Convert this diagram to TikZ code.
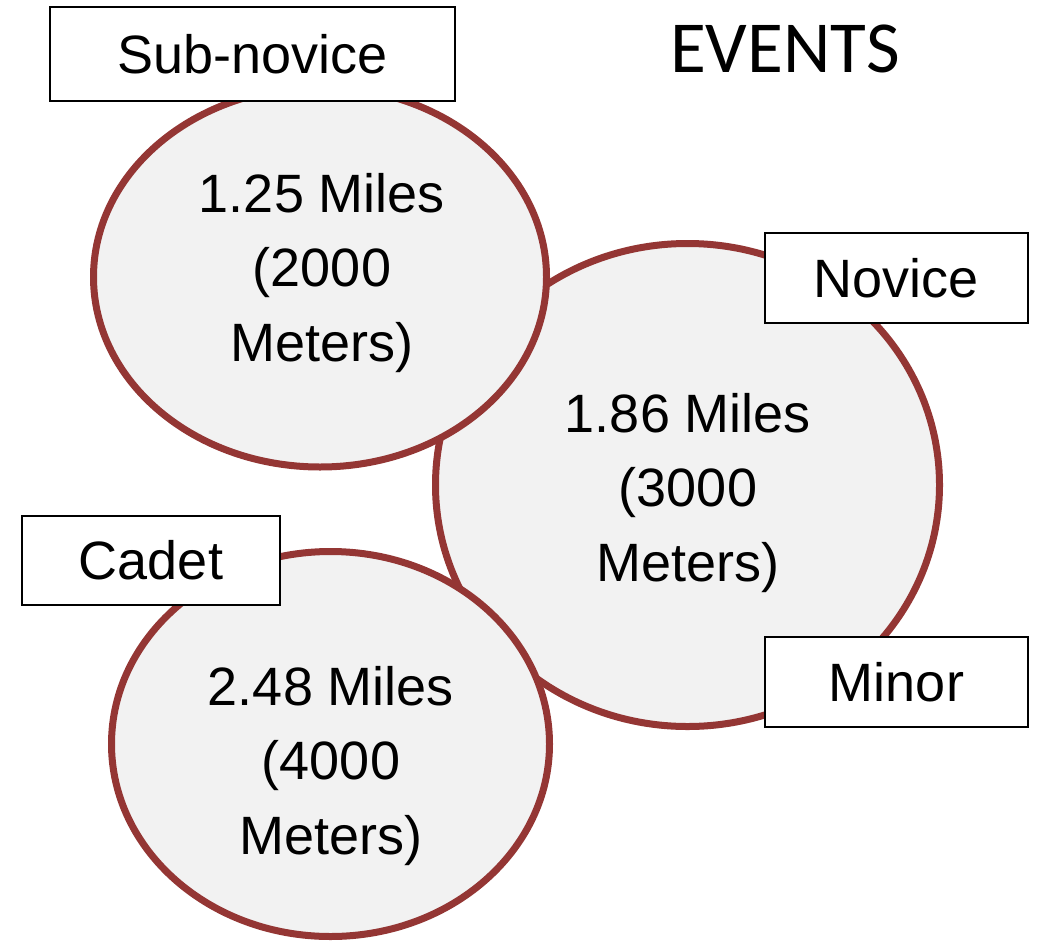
\documentclass[tikz,border=0pt]{standalone}
\usepackage{fontspec}
\setmainfont{Liberation Sans}
\newfontfamily\headfont{Carlito}
\usetikzlibrary{positioning, shapes.geometric}
\definecolor{ringred}{HTML}{943634}
\definecolor{ringfill}{HTML}{F2F2F2}

\begin{document}
\begin{tikzpicture}[
        x=0.75pt, y=-0.75pt,
        event/.style={ellipse, draw=ringred, fill=ringfill, line width=5.25pt, inner sep=0pt},
        tag/.style={rectangle, draw, fill=white, line width=1.1pt, inner sep=0pt, text centered, font=\fontsize{40.5}{50}\selectfont},
        dist/.style={align=center, inner sep=0pt, font=\fontsize{40.5}{56}\selectfont}
    ]
    \useasboundingbox (0,0) rectangle (1038,946);

    \node[event, minimum width=378pt, minimum height=362.25pt] (novring) at (687.5,485) {};
    \node[event, minimum width=339.75pt, minimum height=285pt] (subring) at (320,277) {};
    \node[event, minimum width=328.5pt, minimum height=288.75pt] (cadring) at (330.5,744) {};

    \node[dist] (subdist) at (322,273) {1.25 Miles\\(2000\\Meters)};
    \node[dist] (novdist) at (688,493) {1.86 Miles\\(3000\\Meters)};
    \node[dist] (caddist) at (331,766) {2.48 Miles\\(4000\\Meters)};

    \node[tag, minimum width=303.75pt, minimum height=70.5pt] (subtag) at (252.5,54) {Sub-novice};
    \node[tag, minimum width=197.25pt, minimum height=67.5pt] (novtag) at (896.5,278) {Novice};
    \node[tag, minimum width=197.25pt, minimum height=67.5pt] (mintag) at (896.5,682) {Minor};
    \node[tag, minimum width=193.5pt, minimum height=66.75pt] (cadtag) at (151,560.5) {Cadet};

    \node[anchor=base, font=\headfont\fontsize{55}{60}\selectfont] (events) at (785,72) {EVENTS};
\end{tikzpicture}
\end{document}
